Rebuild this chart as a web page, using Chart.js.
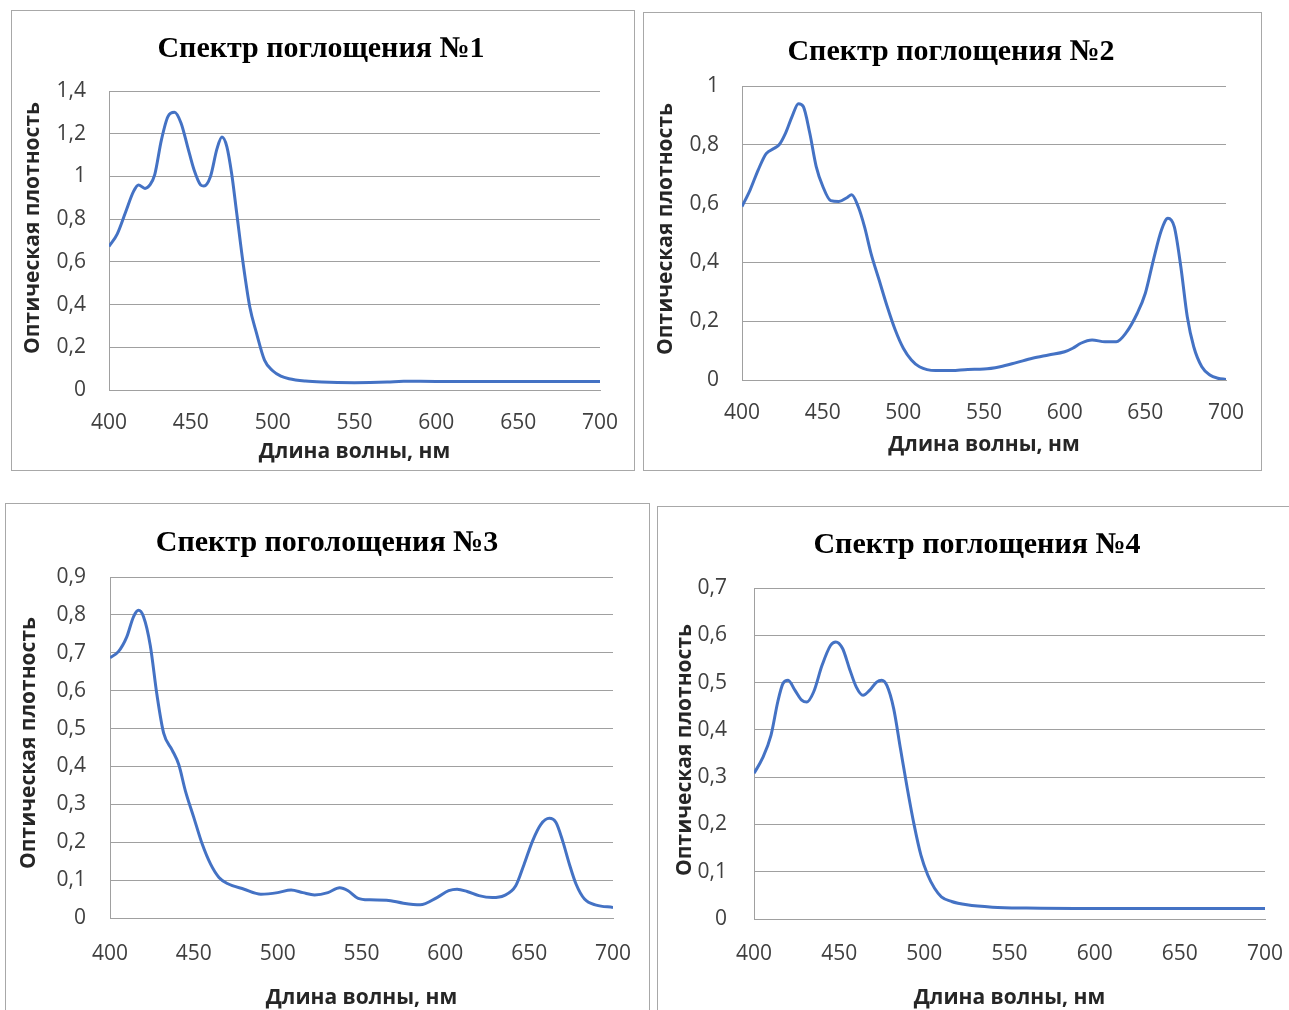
<!DOCTYPE html>
<html>
<head>
<meta charset="utf-8">
<script src="https://cdn.jsdelivr.net/npm/chart.js@4.4.1/dist/chart.umd.min.js"></script>
<style>
  html, body { margin: 0; padding: 0; background: #ffffff; width: 1289px; height: 1010px; overflow: hidden; position: relative; }
  .box { position: absolute; border: 1px solid #a8a8a8; box-sizing: border-box; background: #fff; }
  .box canvas { position: absolute; left: 0; top: 0; }
</style>
</head>
<body>
<div class="box" id="b1"><canvas id="c1"></canvas></div>
<div class="box" id="b2"><canvas id="c2"></canvas></div>
<div class="box" id="b3"><canvas id="c3"></canvas></div>
<div class="box" id="b4"><canvas id="c4"></canvas></div>
<script>
// ---------------- DATA ----------------
const titles = ["Спектр поглощения №1", "Спектр поглощения №2", "Спектр поголощения №3", "Спектр поглощения №4"];
const xAxisTitle = "Длина волны, нм";
const yAxisTitle = "Оптическая плотность";
const xTicks = [400, 450, 500, 550, 600, 650, 700];

const wavelengths1 = [400,405,410,415,418,422,425,428,432,436,440,444,448,452,456,458,462,466,469,472,475,478,482,486,490,495,500,505,510,520,530,550,570,580,600,650,700];
const absorbance1  = [0.672,0.73,0.83,0.93,0.96,0.944,0.96,1.01,1.17,1.28,1.30,1.25,1.14,1.03,0.96,0.955,1.0,1.13,1.185,1.14,1.01,0.83,0.59,0.39,0.27,0.14,0.09,0.065,0.053,0.042,0.037,0.034,0.037,0.041,0.04,0.04,0.04];
const yTicks1 = [0, 0.2, 0.4, 0.6, 0.8, 1, 1.2, 1.4];

const wavelengths2 = [400,405,410,415,420,423,427,431,435,438,442,446,450,455,460,465,468,472,476,480,485,490,495,500,505,510,520,530,540,550,560,570,580,590,600,605,610,617,625,632,638,645,650,655,660,664,668,672,676,680,685,690,695,700];
const absorbance2  = [0.59,0.646,0.714,0.77,0.788,0.80,0.84,0.896,0.94,0.93,0.84,0.726,0.66,0.61,0.607,0.62,0.63,0.59,0.52,0.43,0.34,0.25,0.17,0.108,0.068,0.045,0.032,0.032,0.036,0.037,0.045,0.059,0.074,0.085,0.096,0.108,0.125,0.136,0.13,0.13,0.16,0.227,0.295,0.408,0.51,0.55,0.52,0.385,0.215,0.113,0.045,0.017,0.006,0.002];
const yTicks2 = [0, 0.2, 0.4, 0.6, 0.8, 1];

const wavelengths3 = [400,405,410,414,417,420,424,428,432,437,441,445,450,455,460,465,470,480,490,500,508,515,522,530,537,542,548,555,565,575,585,595,602,607,613,620,628,635,642,647,652,657,662,666,670,674,678,683,690,700];
const absorbance3  = [0.687,0.703,0.742,0.795,0.812,0.795,0.72,0.589,0.488,0.444,0.405,0.335,0.265,0.195,0.142,0.107,0.091,0.076,0.063,0.067,0.074,0.067,0.061,0.067,0.08,0.072,0.052,0.048,0.047,0.039,0.035,0.054,0.072,0.076,0.07,0.059,0.054,0.059,0.085,0.142,0.203,0.247,0.263,0.252,0.203,0.142,0.089,0.05,0.034,0.028];
const yTicks3 = [0, 0.1, 0.2, 0.3, 0.4, 0.5, 0.6, 0.7, 0.8, 0.9];

const wavelengths4 = [400,405,410,414,417,420,424,428,431,435,440,445,448,452,456,460,464,468,472,475,478,482,486,490,494,498,502,506,510,516,525,540,560,600,650,700];
const absorbance4  = [0.308,0.34,0.389,0.46,0.498,0.505,0.484,0.463,0.459,0.48,0.537,0.579,0.586,0.572,0.53,0.491,0.473,0.484,0.501,0.505,0.494,0.445,0.36,0.276,0.199,0.135,0.093,0.065,0.047,0.037,0.03,0.025,0.023,0.022,0.022,0.022];
const yTicks4 = [0, 0.1, 0.2, 0.3, 0.4, 0.5, 0.6, 0.7];

// ---------------- LAYOUT / STYLE ----------------
const panels = [
  { id: 1, box: [11, 10, 624, 461], plot: [109, 91, 600, 390], title: [321, 49], yTickRight: 86, yTitle: [33, 228], xLabelY: 423, xTitleY: 452,
    xs: wavelengths1, ys: absorbance1, yt: yTicks1 },
  { id: 2, box: [643, 12, 619, 459], plot: [742, 86, 1226, 380], title: [951, 52], yTickRight: 719, yTitle: [666, 229], xLabelY: 413, xTitleY: 445,
    xs: wavelengths2, ys: absorbance2, yt: yTicks2 },
  { id: 3, box: [5, 503, 645, 527], plot: [110, 577, 613, 918], title: [327, 543], yTickRight: 86, yTitle: [29, 743], xLabelY: 954, xTitleY: 998,
    xs: wavelengths3, ys: absorbance3, yt: yTicks3 },
  { id: 4, box: [657, 506, 643, 524], plot: [754, 588, 1265, 919], title: [977, 545], yTickRight: 727, yTitle: [685, 750], xLabelY: 954, xTitleY: 998,
    xs: wavelengths4, ys: absorbance4, yt: yTicks4 }
];

const TITLE_SIZE = 30, TICK_SIZE = 21, AXT_SIZE = 21;
const LINE_COLOR = '#4472C4', GRID_COLOR = '#a0a0a0';
const TICK_FONT = "'Open Sans', sans-serif";

function fmt(v) {
  const r = Math.round(v * 10) / 10;
  return String(r).replace('.', ',');
}

// draws the rotated y-axis title at a chosen centre
const yTitlePlugin = {
  id: 'yTitleText',
  afterDraw(chart, args, opts) {
    const ctx = chart.ctx;
    ctx.save();
    ctx.translate(opts.x, opts.y);
    ctx.rotate(-Math.PI / 2);
    ctx.font = 'bold ' + AXT_SIZE + 'px ' + TICK_FONT;
    ctx.fillStyle = '#262626';
    ctx.textAlign = 'center';
    ctx.textBaseline = 'middle';
    ctx.fillText(opts.text, 0, 0);
    ctx.restore();
  }
};

panels.forEach(p => {
  const [bl, bt, bw, bh] = p.box;
  const div = document.getElementById('b' + p.id);
  div.style.left = bl + 'px'; div.style.top = bt + 'px';
  div.style.width = bw + 'px'; div.style.height = bh + 'px';
  const cx0 = bl + 1, cy0 = bt + 1, cw = bw - 2, ch = bh - 2;
  const cv = document.getElementById('c' + p.id);
  cv.width = cw; cv.height = ch;
  cv.style.width = cw + 'px'; cv.style.height = ch + 'px';

  const [pl, pt, pr, pb] = p.plot;
  const want = { left: pl - cx0, top: pt - cy0, right: pr - cx0, bottom: pb - cy0 };
  const padR = (cx0 + cw) - pr;
  // left padding chosen so the (padding-centred) title lands at its reference centre
  const padL = Math.max(0, 2 * (p.title[0] - cx0) - cw + padR);
  const st = { yAxisW: (pl - cx0) - padL, xAxisH: (cy0 + ch) - pb };
  const tLH = TITLE_SIZE * 1.2;
  const titleTop = (p.title[1] - cy0) - tLH / 2;
  const titleBottom = (pt - cy0) - titleTop - tLH;
  const aLH = AXT_SIZE * 1.2;
  const tkLH = TICK_SIZE * 1.2;

  const points = p.xs.map((x, i) => ({ x: x, y: p.ys[i] }));
  const ymax = p.yt[p.yt.length - 1];

  const opts = {
    responsive: false, animation: false, devicePixelRatio: 1,
    layout: { padding: { left: padL, top: 0, right: padR, bottom: 0 } },
    plugins: {
      legend: { display: false }, tooltip: { enabled: false },
      yTitleText: { text: yAxisTitle, x: p.yTitle[0] - cx0, y: p.yTitle[1] - cy0 },
      title: { display: true, text: titles[p.id - 1], color: '#000',
        font: { family: "'Liberation Serif', 'Times New Roman', serif", size: TITLE_SIZE, weight: 'bold' },
        padding: { top: titleTop, bottom: titleBottom } }
    },
    scales: {
      x: {
        type: 'linear', min: 400, max: 700,
        afterBuildTicks: (s) => { s.ticks = xTicks.map(v => ({ value: v })); },
        afterFit: (s) => { s.height = st.xAxisH; },
        grid: { display: true, drawOnChartArea: false, drawTicks: true, tickLength: (p.xLabelY - pb) - tkLH / 2, color: 'rgba(0,0,0,0)' },
        border: { display: true, color: GRID_COLOR, width: 1 },
        ticks: { autoSkip: false, maxRotation: 0, color: '#404040', padding: 0,
          font: { family: TICK_FONT, size: TICK_SIZE } },
        title: { display: true, text: xAxisTitle, color: '#262626',
          font: { family: TICK_FONT, size: AXT_SIZE, weight: 'bold' },
          padding: { top: 0, bottom: (cy0 + ch - p.xTitleY) - aLH / 2 } }
      },
      y: {
        type: 'linear', min: 0, max: ymax,
        afterBuildTicks: (s) => { s.ticks = p.yt.map(v => ({ value: v })); },
        afterFit: (s) => { s.width = st.yAxisW; },
        grid: { display: true, drawTicks: false, color: GRID_COLOR, lineWidth: 1 },
        border: { display: true, color: GRID_COLOR, width: 1 },
        ticks: { color: '#404040', padding: pl - p.yTickRight, callback: (v) => fmt(v),
          font: { family: TICK_FONT, size: TICK_SIZE } },
        title: { display: false }
      }
    }
  };

  const chart = new Chart(cv, {
    type: 'line',
    data: { datasets: [{ data: points, borderColor: LINE_COLOR, borderWidth: 3, pointRadius: 0, fill: false, cubicInterpolationMode: 'monotone' }] },
    plugins: [yTitlePlugin],
    options: opts
  });

  // nudge the layout so the plot area lands where the reference has it
  for (let k = 0; k < 4; k++) {
    const ca = chart.chartArea;
    const dl = want.left - ca.left, dr = ca.right - want.right, dt = want.top - ca.top, db = want.bottom - ca.bottom;
    if (Math.abs(dl) < 0.5 && Math.abs(dr) < 0.5 && Math.abs(dt) < 0.5 && Math.abs(db) < 0.5) break;
    st.yAxisW += dl;
    st.xAxisH -= db;
    opts.layout.padding.right += dr;
    opts.plugins.title.padding.bottom += dt;
    chart.update('none');
  }
});
</script>
</body>
</html>
